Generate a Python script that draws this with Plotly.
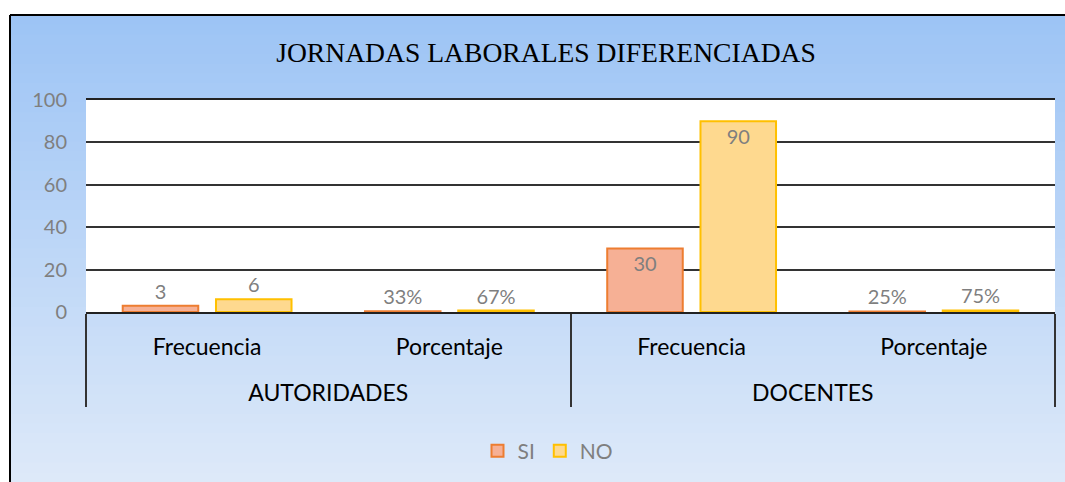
import plotly.graph_objects as go

# Data
groups = ["AUTORIDADES", "AUTORIDADES", "DOCENTES", "DOCENTES"]
measures = ["Frecuencia", "Porcentaje", "Frecuencia", "Porcentaje"]
si_values = [3, 0.33, 30, 0.25]
no_values = [6, 0.67, 90, 0.75]
si_labels = ["3", "33%", "30", "25%"]
no_labels = ["6", "67%", "90", "75%"]

W, H = 1065, 482
L, R, T, B = 86, 10, 100, 170
plot_w = W - L - R
plot_h = H - T - B


def px_x(p):
    return (p - L) / plot_w


def px_y(p):
    return (H - B - p) / plot_h


def text_pos(vals):
    return ["inside" if v >= 20 else "outside" for v in vals]


# an extra blank line under the inner labels to space the two label rows like the original
inner_labels = [m + "<br>\u00a0" for m in measures]

label_font = dict(family="Lato, Open Sans, sans-serif", size=20, color="#7f7f7f")

fig = go.Figure()
fig.add_trace(go.Bar(
    x=[groups, inner_labels], y=si_values, name="SI",
    marker=dict(color="#F6B095", line=dict(color="#ED7D31", width=2)),
    text=si_labels, textposition=text_pos(si_values),
    insidetextanchor="end", textfont=label_font, cliponaxis=False,
))
fig.add_trace(go.Bar(
    x=[groups, inner_labels], y=no_values, name="NO",
    marker=dict(color="#FED98F", line=dict(color="#FFC000", width=2)),
    text=no_labels, textposition=text_pos(no_values),
    insidetextanchor="end", textfont=label_font, cliponaxis=False,
))

# gradient background made of thin stripes
shapes = []
top_c = (157, 196, 245)
bot_c = (221, 233, 249)
y0 = 15
steps = 48
step = (H - y0) / steps
for i in range(steps):
    t = i / (steps - 1)
    c = tuple(round(top_c[k] + (bot_c[k] - top_c[k]) * t) for k in range(3))
    shapes.append(dict(
        type="rect", xref="paper", yref="paper", layer="below",
        x0=px_x(10), x1=px_x(W + 5),
        y0=px_y(y0 + i * step), y1=px_y(y0 + (i + 1) * step + 1),
        fillcolor="rgb(%d,%d,%d)" % c, line=dict(width=0),
    ))
# white plot area
shapes.append(dict(type="rect", xref="paper", yref="paper", layer="below",
                   x0=0, x1=1, y0=0, y1=1, fillcolor="white", line=dict(width=0)))
# outer frame
shapes.append(dict(type="line", xref="paper", yref="paper",
                   x0=px_x(10), x1=px_x(W + 5), y0=px_y(15), y1=px_y(15),
                   line=dict(color="black", width=2)))
shapes.append(dict(type="line", xref="paper", yref="paper",
                   x0=px_x(10), x1=px_x(10), y0=px_y(15), y1=px_y(H + 5),
                   line=dict(color="black", width=2)))

fig.update_layout(
    width=W, height=H,
    margin=dict(l=L, r=R, t=T, b=B, autoexpand=False),
    paper_bgcolor="white", plot_bgcolor="white",
    title=dict(text="JORNADAS LABORALES DIFERENCIADAS",
               font=dict(family="Liberation Serif, Times New Roman, serif", size=27.6, color="black"),
               x=546 / W, xanchor="center", y=1 - 52 / H, yanchor="middle"),
    barmode="group", bargap=0.23, bargroupgap=0.19,
    showlegend=True,
    legend=dict(orientation="h", x=px_x(548), xanchor="center", y=px_y(451), yanchor="middle",
                font=dict(family="Lato, Open Sans, sans-serif", size=21, color="#7f7f7f"),
                bgcolor="rgba(0,0,0,0)", itemwidth=30),
    shapes=shapes,
    xaxis=dict(type="multicategory", showline=True, mirror=True, linecolor="#222222", linewidth=1.5,
               showdividers=True, dividercolor="#333333", dividerwidth=1.5,
               ticklabelstandoff=14,
               tickfont=dict(family="Lato, Open Sans, sans-serif", size=23, color="black"),
               showgrid=False, ticks=""),
    yaxis=dict(range=[0, 100], dtick=20, showgrid=True, gridcolor="#333333", gridwidth=1.5,
               zeroline=False, showline=False, ticks="", ticklabelstandoff=18,
               tickfont=dict(family="Lato, Open Sans, sans-serif", size=20, color="#7f7f7f")),
)

fig.write_html("out.html", config=dict(displayModeBar=False),
               post_script="document.body.style.margin='0px';")
